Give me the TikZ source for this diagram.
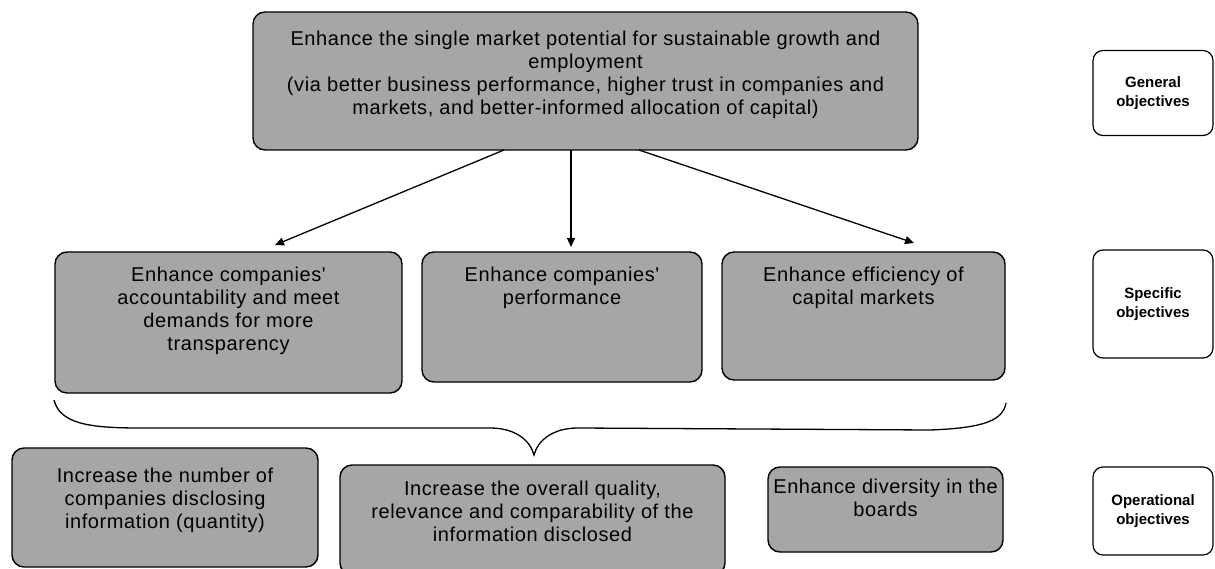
\documentclass[tikz,border=0pt]{standalone}
\usepackage{fontspec}
\setmainfont{Liberation Sans}
\newfontfamily\objfont[LetterSpace=3]{Liberation Sans}
\usetikzlibrary{arrows.meta}
\tikzset{
  objbox/.style={draw=black, line width=1.4pt, rounded corners=12pt, fill=black!35, inner sep=0pt},
  lblbox/.style={draw=black, line width=1.2pt, rounded corners=10pt, fill=white, inner sep=0pt},
  objtext/.style={anchor=north, align=center, inner sep=0pt, font=\objfont\fontsize{20}{23}\selectfont},
  lbltext/.style={align=center, inner sep=0pt, font=\fontsize{15}{19}\selectfont\bfseries},
  conn/.style={line width=1.3pt, -{Triangle[length=9pt,width=8pt]}},
  bracestyle/.style={line width=1.3pt}
}
\begin{document}
\begin{tikzpicture}[x=1pt,y=-1pt]
\useasboundingbox (0,0) rectangle (1215,569);
\clip (0,0) rectangle (1215,569);
\fill[white] (0,0) rectangle (1215,569);

% general objective
\node[objbox, minimum width=665pt, minimum height=138pt] (top) at (585.5,81) {};
\node[objtext] (topt) at ([yshift=-20pt]top.north) {Enhance the single market potential for sustainable growth and\\ employment\\ (via better business performance, higher trust in companies and\\ markets, and better-informed allocation of capital)};

% specific objectives
\node[objbox, minimum width=347pt, minimum height=141pt] (s1) at (228.5,322.5) {};
\node[objtext] (s1t) at ([yshift=-16pt]s1.north) {Enhance companies'\\ accountability and meet\\ demands for more\\ transparency};
\node[objbox, minimum width=280pt, minimum height=130pt] (s2) at (562,317) {};
\node[objtext] (s2t) at ([yshift=-16pt]s2.north) {Enhance companies'\\ performance};
\node[objbox, minimum width=283pt, minimum height=128pt] (s3) at (863.5,316) {};
\node[objtext] (s3t) at ([yshift=-16pt]s3.north) {Enhance efficiency of\\ capital markets};

% operational objectives
\node[objbox, minimum width=306pt, minimum height=119pt] (o1) at (165,507.5) {};
\node[objtext] (o1t) at ([yshift=-21pt]o1.north) {Increase the number of\\ companies disclosing\\ information (quantity)};
\node[objbox, minimum width=385pt, minimum height=110pt] (o2) at (532.5,520) {};
\node[objtext] (o2t) at ([yshift=-17pt]o2.north) {Increase the overall quality,\\ relevance and comparability of the\\ information disclosed};
\node[objbox, minimum width=235pt, minimum height=85pt] (o3) at (885.5,509.5) {};
\node[objtext] (o3t) at ([yshift=-13pt]o3.north) {Enhance diversity in the\\ boards};

% labels
\node[lblbox, minimum width=120pt, minimum height=85pt] (lg) at (1153,93) {};
\node[lbltext] (lgt) at (lg) {General\\ objectives};
\node[lblbox, minimum width=120pt, minimum height=108pt] (ls) at (1153,304) {};
\node[lbltext] (lst) at (ls) {Specific\\ objectives};
\node[lblbox, minimum width=120pt, minimum height=88pt] (lo) at (1153,511) {};
\node[lbltext] (lot) at (lo) {Operational\\ objectives};

% arrows
\coordinate (a1) at (504,150);
\coordinate (a2) at (571,150);
\coordinate (a3) at (639,150);
\coordinate (e1) at (275,245);
\coordinate (e2) at (571,247);
\coordinate (e3) at (914,243);
\draw[conn] (a1) -- (e1);
\draw[conn] (a2) -- (e2);
\draw[conn] (a3) -- (e3);

% brace
\coordinate (bl) at (54,400);
\coordinate (bt) at (534,455);
\coordinate (br) at (1006,403);
\draw[bracestyle] (bl) .. controls (60,424) and (90,428) .. (140,428) -- (490,428)
  .. controls (515,428) and (530,440) .. (bt)
  .. controls (538,440) and (553,428) .. (578,428) -- (930,430)
  .. controls (985,428) and (1003,420) .. (br);
\end{tikzpicture}
\end{document}
